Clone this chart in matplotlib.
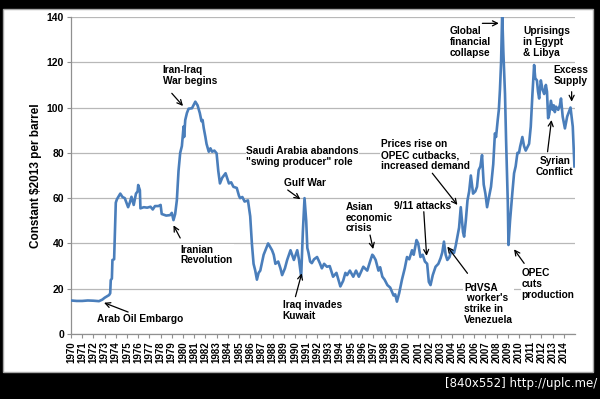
import matplotlib
matplotlib.use("Agg")
import matplotlib.pyplot as plt
from matplotlib.patches import Rectangle

plt.rcParams['font.family'] = ['Liberation Sans', 'DejaVu Sans']

years = [1970.0, 1970.5, 1971.0, 1971.5, 1972.0, 1972.5, 1972.8, 1973.0, 1973.4, 1973.5,
         1973.55, 1973.65, 1973.7, 1973.85, 1974.0, 1974.1, 1974.4, 1974.6, 1974.8, 1975.1,
         1975.25, 1975.4, 1975.6, 1975.8, 1975.95, 1976.0, 1976.15, 1976.2, 1976.5, 1976.8,
         1977.1, 1977.3, 1977.5, 1977.8, 1978.0, 1978.1, 1978.5, 1978.85, 1979.0, 1979.15,
         1979.3, 1979.45, 1979.6, 1979.75, 1979.9, 1980.05, 1980.1, 1980.2, 1980.35, 1980.5,
         1980.8, 1981.1, 1981.3, 1981.5, 1981.65, 1981.75, 1981.85, 1982.0, 1982.1, 1982.3,
         1982.45, 1982.6, 1982.8, 1983.0, 1983.15, 1983.3, 1983.5, 1983.8, 1984.1, 1984.3,
         1984.5, 1984.8, 1985.0, 1985.1, 1985.3, 1985.5, 1985.8, 1986.0, 1986.15, 1986.3,
         1986.45, 1986.6, 1986.75, 1986.9, 1987.2, 1987.6, 1987.95, 1988.1, 1988.25, 1988.5,
         1988.7, 1988.85, 1989.1, 1989.3, 1989.6, 1989.9, 1990.2, 1990.35, 1990.55, 1990.7,
         1990.85, 1991.0, 1991.1, 1991.2, 1991.35, 1991.5, 1991.7, 1991.97, 1992.2, 1992.4,
         1992.6, 1992.85, 1993.1, 1993.4, 1993.7, 1993.9, 1994.05, 1994.3, 1994.5, 1994.65,
         1994.9, 1995.2, 1995.45, 1995.7, 1996.1, 1996.45, 1996.7, 1996.9, 1997.0, 1997.2,
         1997.45, 1997.6, 1997.8, 1998.0, 1998.25, 1998.5, 1998.8, 1998.95, 1999.1, 1999.3,
         1999.55, 1999.8, 2000.0, 2000.2, 2000.45, 2000.6, 2000.85, 2001.0, 2001.2, 2001.4,
         2001.6, 2001.8, 2001.95, 2002.1, 2002.3, 2002.55, 2002.8, 2003.0, 2003.15, 2003.3,
         2003.45, 2003.6, 2003.8, 2003.95, 2004.2, 2004.35, 2004.5, 2004.65, 2004.8, 2005.0,
         2005.1, 2005.25, 2005.4, 2005.55, 2005.7, 2005.9, 2006.1, 2006.25, 2006.4, 2006.55,
         2006.7, 2006.85, 2007.0, 2007.15, 2007.3, 2007.5, 2007.7, 2007.85, 2007.95, 2008.1,
         2008.2, 2008.3, 2008.4, 2008.5, 2008.6, 2008.75, 2008.85, 2009.0, 2009.06, 2009.2,
         2009.4, 2009.56, 2009.7, 2009.86, 2010.0, 2010.1, 2010.3, 2010.45, 2010.6, 2010.9,
         2011.05, 2011.2, 2011.35, 2011.45, 2011.6, 2011.7, 2011.8, 2011.95, 2012.1, 2012.25,
         2012.4, 2012.5, 2012.6, 2012.7, 2012.85, 2013.0, 2013.1, 2013.2, 2013.3, 2013.5,
         2013.65, 2013.75, 2013.9, 2014.1, 2014.3, 2014.45, 2014.6, 2014.8, 2014.95]
prices = [14.8, 14.6, 14.6, 14.8, 14.7, 14.5, 15.2, 16.0, 17.2, 18.0,
          23.8, 24.5, 32.7, 33.0, 58.0, 59.5, 62.0, 60.5, 60.0, 56.0,
          58.0, 60.6, 57.0, 62.0, 63.0, 65.8, 63.5, 55.5, 56.0, 55.8,
          56.2, 55.0, 56.5, 56.5, 57.0, 53.0, 52.3, 52.5, 53.5, 50.3,
          53.0, 59.0, 72.0, 80.0, 83.0, 91.6, 87.0, 94.5, 97.6, 99.5,
          99.7, 102.6, 101.0, 97.6, 94.0, 94.5, 91.0, 87.0, 84.0, 80.5,
          82.0, 80.5, 81.0, 79.8, 72.0, 66.5, 69.0, 71.0, 66.5, 67.0,
          65.0, 64.5, 61.0, 60.0, 60.5, 58.5, 59.0, 52.0, 40.0, 31.0,
          28.0, 24.0, 27.0, 28.0, 35.0, 40.0, 37.0, 35.0, 31.0, 32.0,
          29.0, 26.0, 29.0, 32.7, 37.0, 32.7, 37.0, 33.0, 25.3, 45.0,
          60.0, 50.0, 38.0, 36.0, 32.0, 31.3, 33.0, 34.0, 31.5, 29.0,
          31.0, 29.7, 30.0, 25.3, 27.0, 23.5, 21.0, 23.5, 27.0, 26.0,
          28.0, 25.3, 28.0, 25.3, 29.7, 28.0, 32.0, 35.0, 34.5, 32.7,
          28.0, 29.5, 25.3, 24.0, 21.6, 20.5, 17.0, 17.5, 14.3, 18.0,
          24.0, 29.0, 34.0, 33.0, 37.0, 35.0, 41.5, 40.0, 34.0, 35.0,
          32.0, 31.0, 23.0, 21.6, 26.0, 29.7, 31.0, 33.5, 36.0, 40.8,
          35.0, 32.7, 34.0, 37.0, 35.8, 39.0, 43.0, 47.0, 56.0, 45.0,
          43.0, 50.0, 59.0, 63.0, 70.0, 62.0, 63.0, 65.0, 72.4, 74.0,
          79.0, 66.0, 62.0, 56.0, 60.0, 65.0, 75.0, 88.6, 87.0, 94.5,
          99.0, 108.0, 120.0, 142.0, 125.0, 106.0, 85.0, 58.0, 39.3, 50.0,
          62.0, 71.0, 74.0, 80.0, 80.0, 82.7, 87.0, 83.0, 81.0, 84.0,
          91.6, 106.0, 118.8, 113.0, 112.0, 107.0, 104.0, 112.0, 108.0, 106.0,
          110.0, 107.0, 95.3, 97.0, 103.0, 99.0, 101.0, 98.0, 100.4, 99.0,
          101.0, 104.0, 96.0, 90.8, 96.0, 98.0, 100.0, 91.6, 74.0]

tick_years = list(range(1970, 2015))
y_ticks = [0, 20, 40, 60, 80, 100, 120, 140]

# label text, text anchor, alignment, arrow tail, arrow tip
notes = [
    ("Arab Oil Embargo", (1976.2, 6.6), 'center', (1975.1, 9.7), (1972.95, 13.8)),
    ("Iranian\nRevolution", (1979.8, 34.9), 'left', (1979.75, 42.4), (1979.15, 48.0)),
    ("Iran-Iraq\nWar begins", (1978.2, 114.0), 'left', (1979.0, 106.3), (1980.0, 100.7)),
    ("Saudi Arabia abandons\n\"swing producer\" role", (1985.65, 78.3), 'left', None, None),
    ("Gulf War", (1990.9, 66.8), 'center', (1989.35, 63.6), (1990.48, 59.5)),
    ("Iraq invades\nKuwait", (1988.9, 10.3), 'left', (1990.04, 16.5), (1990.6, 26.8)),
    ("Asian\neconomic\ncrisis", (1994.5, 51.4), 'left', (1996.7, 43.7), (1996.98, 37.5)),
    ("9/11 attacks", (2001.36, 56.5), 'center', (2001.5, 54.0), (2001.75, 34.5)),
    ("Prices rise on\nOPEC cutbacks,\nincreased demand", (1997.64, 79.0), 'left', (2002.26, 71.0), (2004.5, 57.0)),
    ("PdVSA\n worker's\nstrike in\nVenezuela", (2005.1, 13.3), 'left', (2005.4, 26.8), (2003.6, 38.6)),
    ("OPEC\ncuts\nproduction", (2010.2, 22.0), 'left', (2010.46, 31.2), (2009.56, 37.4)),
    ("Global\nfinancial\ncollapse", (2003.85, 129.0), 'left', (2006.73, 137.2), (2008.2, 137.2)),
    ("Uprisings\nin Egypt\n& Libya", (2010.4, 129.0), 'left', None, None),
    ("Excess\nSupply", (2014.6, 114.0), 'center', (2014.7, 107.0), (2014.7, 102.6)),
    ("Syrian\nConflict", (2013.2, 73.9), 'center', (2012.55, 80.5), (2012.9, 94.5)),
]

fig = plt.figure(figsize=(6.0, 3.99), dpi=100)
fig.patch.set_facecolor('black')

# white card behind the chart
bg = fig.add_axes([0, 0, 1, 1], zorder=-5)
bg.set_xlim(0, 600)
bg.set_ylim(399, 0)
bg.axis('off')
bg.add_patch(Rectangle((3, 9), 590, 363, facecolor='white', edgecolor='#a8a8a8', lw=1.0))

ax = fig.add_axes([71 / 600, 65 / 399, 504 / 600, 317 / 399], zorder=1)
ax.set_facecolor('none')
ax.plot(years, prices, color='#4a7ebb', lw=1.9, zorder=3, solid_joinstyle='round')

ax.set_xlim(1970, 2015)
ax.set_ylim(0, 140)
ax.set_xticks(tick_years)
ax.set_xticklabels([str(y) for y in tick_years], rotation=90, fontsize=7, fontweight='bold')
ax.set_yticks(y_ticks)
ax.set_yticklabels([str(v) for v in y_ticks], fontsize=7.5, fontweight='bold')
ax.tick_params(axis='both', direction='out', length=3, width=0.8, color='#909090', pad=2)

ax.set_axisbelow(True)
ax.yaxis.grid(True, color='#b8b8b8', lw=0.9)
for side in ['top', 'right']:
    ax.spines[side].set_visible(False)
for side in ['left', 'bottom']:
    ax.spines[side].set_color('#909090')
    ax.spines[side].set_linewidth(0.9)

ax.set_ylabel("Constant $2013 per barrel", fontsize=8.5, fontweight='bold')
ax.yaxis.set_label_coords(-0.058, 0.5)

for label, pos, align, tail, tip in notes:
    ax.text(pos[0], pos[1], label, ha=align, va='center', multialignment=align,
            fontsize=7.3, fontweight='bold', linespacing=1.1, zorder=2, clip_on=False,
            bbox=dict(facecolor='white', edgecolor='none', pad=0.5))
    if tail is not None:
        ax.annotate('', xy=tip, xytext=tail, zorder=4, annotation_clip=False,
                    arrowprops=dict(arrowstyle='->', color='black', lw=0.9,
                                    shrinkA=0, shrinkB=0, mutation_scale=9))

fig.text(597 / 600, 16 / 399, "[840x552] http://uplc.me/", color='white', fontsize=8.5,
         ha='right', va='center', family='DejaVu Sans')

fig.savefig('out.png', dpi=100, facecolor=fig.get_facecolor())
